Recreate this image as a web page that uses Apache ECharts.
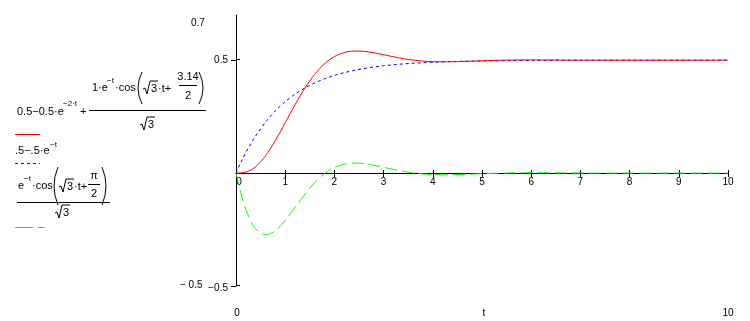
<!DOCTYPE html>
<html>
<head>
<meta charset="utf-8">
<script src="https://cdn.jsdelivr.net/npm/echarts@6/dist/echarts.min.js"></script>
<style>
  html, body { margin: 0; padding: 0; background: #fff; }
  #main { width: 750px; height: 321px; }
</style>
</head>
<body>
<div id="main"></div>
<script>
// t values read along the horizontal axis
var tValues = [0, 0.1, 0.2, 0.3, 0.4, 0.6, 0.8, 1.0, 1.2, 1.4, 1.6, 1.8, 2.0, 2.2, 2.4, 2.6, 2.8,
    3.0, 3.2, 3.4, 3.6, 3.8, 4.0, 4.4, 4.8, 5.2, 5.6, 6, 7, 8, 9, 10];
// red solid curve
var redValues = [0, 0.0006, 0.0043, 0.0132, 0.0283, 0.0762, 0.1441, 0.2227, 0.3026, 0.3761, 0.4374,
    0.4840, 0.5156, 0.5336, 0.5404, 0.5392, 0.5330, 0.5243, 0.5151, 0.5068, 0.5004, 0.4959,
    0.4934, 0.4930, 0.4958, 0.4987, 0.5006, 0.5012, 0.5002, 0.5, 0.5, 0.5];
// blue dotted curve
var blueValues = [0, 0.0476, 0.0907, 0.1296, 0.1648, 0.2256, 0.2754, 0.3161, 0.3494, 0.3767, 0.3991,
    0.4174, 0.4323, 0.4446, 0.4546, 0.4628, 0.4696, 0.4751, 0.4796, 0.4833, 0.4863, 0.4888,
    0.4908, 0.4939, 0.4959, 0.4972, 0.4982, 0.4988, 0.4995, 0.4998, 0.4999, 0.5];
// green dashed curve
var greenValues = [0, -0.0900, -0.1605, -0.2124, -0.2471, -0.2732, -0.2550, -0.2096, -0.1520, -0.0935,
    -0.0422, -0.0023, 0.0248, 0.0397, 0.0445, 0.0420, 0.0348, 0.0255, 0.0159, 0.0074, 0.0008,
    -0.0038, -0.0064, -0.0069, -0.0042, -0.0013, 0.0006, 0.0012, 0.0002, 0, 0, 0];
var xTicks = [0, 1, 2, 3, 4, 5, 6, 7, 8, 9, 10];
var yTickValues = [-0.5, 0.5];

function pairs(vals) {
    return tValues.map(function (t, i) { return [t, vals[i]]; });
}

var FONT = 'Liberation Sans';

function txt(x, y, s, size, align) {
    return {
        type: 'text', x: x, y: y, silent: true,
        style: { text: s, fill: '#000', font: (size || 11) + 'px "' + FONT + '"',
            textAlign: align || 'left', textVerticalAlign: 'middle' }
    };
}
function hline(x1, x2, y, color, dash) {
    return {
        type: 'line', silent: true,
        shape: { x1: x1, y1: y, x2: x2, y2: y },
        style: { stroke: color || '#000', lineWidth: 1, lineDash: dash || null }
    };
}
// radical sign followed by its radicand
function root(x, c, s) {
    return [{
        type: 'polyline', silent: true,
        shape: { points: [[x, c + 1], [x + 2, c], [x + 4, c + 6], [x + 7, c - 7], [x + 15, c - 7]] },
        style: { stroke: '#000', lineWidth: 1, fill: null }
    }, txt(x + 8, c + 1, s)];
}
// tall thin parenthesis
function paren(x, top, bottom, left) {
    var mid = (top + bottom) / 2;
    return {
        type: 'bezierCurve', silent: true,
        shape: left ? { x1: x + 5, y1: top, x2: x + 5, y2: bottom, cpx1: x - 3, cpy1: mid }
                    : { x1: x, y1: top, x2: x, y2: bottom, cpx1: x + 8, cpy1: mid },
        style: { stroke: '#000', lineWidth: 1, fill: null }
    };
}

var legendParts = [].concat(
    // first formula
    txt(17, 112, '0.5\u22120.5\u00b7e'),
    txt(63, 104, '\u22122\u00b7t', 8),
    txt(80, 112, '+'),
    hline(89, 206, 110.5),
    txt(92, 88, '1\u00b7e'),
    txt(107, 81, '\u2212t', 8),
    txt(115, 88, '\u00b7cos'),
    paren(137, 72, 104, true),
    root(143, 88, '3'),
    txt(158, 89, '\u00b7t+'),
    txt(188, 77, '3.14', 11, 'center'),
    hline(179, 197, 85.5),
    txt(188, 96, '2', 11, 'center'),
    paren(199, 72, 104, false),
    root(140, 124, '3'),
    hline(15, 40, 134.5, '#ff0000'),
    // second formula
    txt(15, 151, '.5\u2212.5\u00b7e'),
    txt(50, 145, '\u2212t', 8),
    hline(15, 40, 163.5, '#0000ff', [3, 3]),
    // third formula
    txt(18, 186, 'e'),
    txt(24, 179, '\u2212t', 8),
    txt(32, 186, '\u00b7cos'),
    paren(53, 167, 205, true),
    root(59, 186, '3'),
    txt(74, 187, '\u00b7t+'),
    txt(94, 176, '\u03c0', 11, 'center'),
    hline(88, 100, 184.5),
    txt(94, 194, '2', 11, 'center'),
    paren(102, 167, 205, false),
    hline(17, 110, 202.5),
    root(55, 212, '3'),
    hline(15, 45, 227.5, '#00ff00', [18, 5]),
    // range labels
    txt(191, 23, '0.7', 10),
    txt(180, 285, '\u2212 0.5', 10),
    txt(237, 313, '0', 10, 'center'),
    txt(484, 313, 't', 10, 'center'),
    txt(728, 313, '10', 10, 'center')
);

var myChart = echarts.init(document.getElementById('main'));

var axisTextStyle = { color: '#000', fontSize: 10, fontFamily: FONT };
var hidden = { show: false };

var option = {
    backgroundColor: '#fff',
    animation: false,
    grid: [
        { left: 236, right: 22, top: 15, bottom: 35, containLabel: false },
        // thin strip at the zero line carrying the t axis
        { left: 236, right: 22, top: 173, height: 0, containLabel: false }
    ],
    xAxis: [{
        gridIndex: 0, type: 'value', min: 0, max: 10, interval: 1,
        axisLine: hidden, axisTick: hidden, axisLabel: hidden, splitLine: hidden
    }, {
        gridIndex: 1, type: 'value', min: 0, max: 10, interval: 1, position: 'bottom',
        axisLine: { show: true, onZero: false, lineStyle: { color: '#000', width: 1 } },
        axisTick: { show: true, length: 4, lineStyle: { color: '#000' } },
        axisLabel: Object.assign({
            margin: 4, customValues: xTicks,
            formatter: function (v) { return v === 0 ? '{z|0}' : String(v); },
            rich: { z: { fontSize: 10, fontFamily: FONT, color: '#000', padding: [0, 0, 0, 6] } }
        }, axisTextStyle),
        splitLine: hidden
    }, {
        gridIndex: 1, type: 'value', min: 0, max: 10, interval: 1, position: 'top',
        axisLine: { show: false, onZero: false },
        axisTick: { show: true, length: 3, lineStyle: { color: '#000' } },
        axisLabel: hidden, splitLine: hidden
    }],
    yAxis: [{
        gridIndex: 0, type: 'value', min: -0.5, max: 0.7, interval: 0.5,
        axisLine: { show: true, onZero: false, lineStyle: { color: '#000', width: 1 } },
        axisTick: { show: true, length: 5, customValues: yTickValues, lineStyle: { color: '#000' } },
        axisLabel: Object.assign({
            margin: 8, customValues: yTickValues,
            formatter: function (v) { return v < 0 ? '{lo|\u22120.5}' : '0.5'; },
            rich: { lo: { fontSize: 10, fontFamily: FONT, color: '#000', padding: [5, 0, 0, 0] } }
        }, axisTextStyle),
        splitLine: hidden
    }, {
        gridIndex: 1, type: 'value', min: -1, max: 1, show: false
    }],
    series: [{
        name: 'blue', type: 'line', data: pairs(blueValues), showSymbol: false, smooth: 0.3,
        lineStyle: { color: '#0000ff', width: 1, type: [3, 3] }
    }, {
        name: 'green', type: 'line', data: pairs(greenValues), showSymbol: false, smooth: 0.3,
        lineStyle: { color: '#00ff00', width: 1, type: [12, 5] }
    }, {
        name: 'red', type: 'line', data: pairs(redValues), showSymbol: false, smooth: 0.3,
        lineStyle: { color: '#ff0000', width: 1 }
    }],
    graphic: legendParts.concat([
        // inner half of the crossing ticks on the vertical axis
        hline(236, 240, 59.5), hline(236, 240, 285.5)
    ])
};

myChart.setOption(option);
</script>
</body>
</html>
